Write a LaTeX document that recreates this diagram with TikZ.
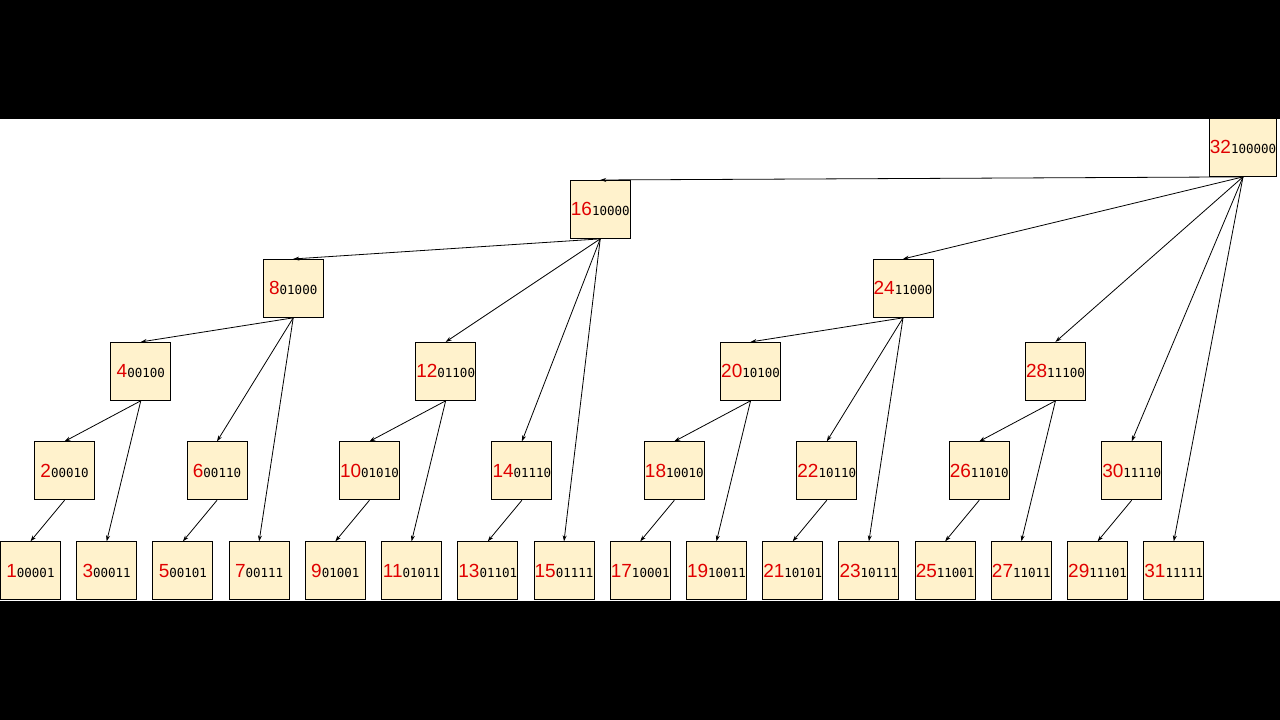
\documentclass[tikz,border=0pt]{standalone}
\usepackage{fontspec}
\setmainfont{Liberation Sans}
\newfontfamily\binfont{DejaVu Sans Mono}
\usetikzlibrary{arrows.meta}
\definecolor{cream}{HTML}{FFF2CC}
\definecolor{numred}{HTML}{E00000}
\tikzset{fw/.style={draw=black,fill=cream,line width=0.9pt,minimum width=60pt,minimum height=58pt,inner sep=0pt,align=center},
 edge/.style={line width=0.8pt,-{Stealth[length=6pt,width=4pt]}}}
\newcommand{\fwlabel}[2]{{\fontsize{19}{22}\selectfont\color{numred}#1\par}\vspace{3pt}{\binfont\fontsize{12.5}{14}\selectfont #2\par}}
\begin{document}
\begin{tikzpicture}[x=1pt,y=-1pt]
\fill[black] (0,0) rectangle (1280,720);
\fill[white] (0,119) rectangle (1280,601);
\foreach \n/\b in {1/00001,3/00011,5/00101,7/00111,9/01001,11/01011,13/01101,15/01111,17/10001,19/10011,21/10101,23/10111,25/11001,27/11011,29/11101,31/11111}
  \node[fw] (n\n) at ({30+38.125*(\n-1)},571) {\fwlabel{\n}{\b}};
\foreach \n/\b in {2/00010,6/00110,10/01010,14/01110,18/10010,22/10110,26/11010,30/11110}
  \node[fw] (n\n) at ({26+38.125*(\n-1)},471) {\fwlabel{\n}{\b}};
\foreach \n/\b in {4/00100,12/01100,20/10100,28/11100}
  \node[fw] (n\n) at ({26+38.125*(\n-1)},371.5) {\fwlabel{\n}{\b}};
\foreach \n/\b in {8/01000,24/11000}
  \node[fw] (n\n) at ({26+38.125*(\n-1)},288.5) {\fwlabel{\n}{\b}};
\node[fw] (n16) at (600,209.5) {\fwlabel{16}{10000}};
\node[fw,minimum width=67pt] (n32) at (1243,147.5) {\fwlabel{32}{100000}};
\foreach \p/\c in {2/1,4/2,4/3,6/5,8/4,8/6,8/7,10/9,12/10,12/11,14/13,16/8,16/12,16/14,16/15,18/17,20/18,20/19,22/21,24/20,24/22,24/23,26/25,28/26,28/27,30/29,32/16,32/24,32/28,32/30,32/31}
  \draw[edge] (n\p.south) -- (n\c.north);
\end{tikzpicture}
\end{document}
